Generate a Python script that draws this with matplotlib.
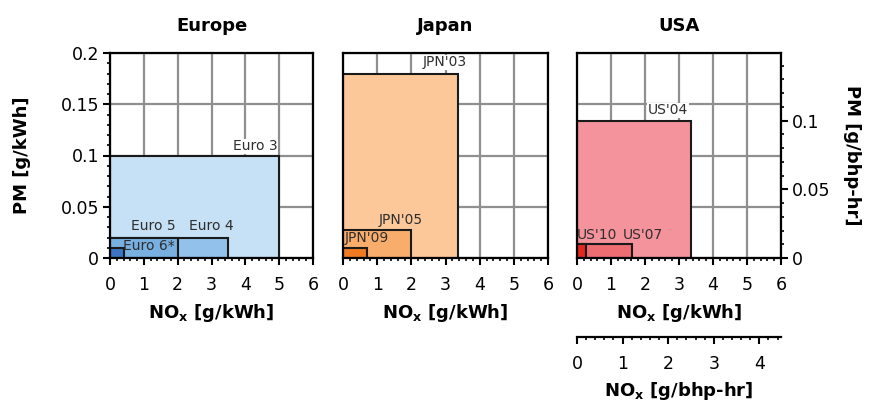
import matplotlib.pyplot as plt
from matplotlib.patches import Rectangle
from matplotlib.ticker import MultipleLocator

plt.rcParams['font.family'] = ['DejaVu Sans']

# emission limits: NOx [g/kWh], PM [g/kWh]
eu_names = ['Euro 3', 'Euro 4', 'Euro 5', 'Euro 6*']
eu_nox = [5.0, 3.5, 2.0, 0.4]
eu_pm = [0.10, 0.02, 0.02, 0.01]
eu_colors = ['#c6e0f5', '#92c2eb', '#78b0e2', '#3b74c2']

jp_names = ["JPN'03", "JPN'05", "JPN'09"]
jp_nox = [3.38, 2.0, 0.7]
jp_pm = [0.18, 0.027, 0.01]
jp_colors = ['#fdc899', '#f9ad6c', '#f07a22']

us_names = ["US'04", "US'07", "US'10"]
us_nox = [3.35, 1.61, 0.27]
us_pm = [0.134, 0.0134, 0.0134]
us_colors = ['#f4939b', '#ee6d73', '#e4261f']

KWH_PER_BHP = 1.341  # g/bhp-hr -> g/kWh

TICK_FS = 12.5
LAB_FS = 13

fig = plt.figure(figsize=(8.85, 4.05), dpi=100)
W, H = 885, 405


def style_ticks(a, pad=3):
    a.tick_params(which='major', direction='out', length=5, width=1.5,
                  labelsize=TICK_FS, pad=pad)
    a.tick_params(which='minor', direction='out', length=2.5, width=1.2)


def make_ax(x0, x1, title):
    ax = fig.add_axes([x0 / W, 1 - 258 / H, (x1 - x0) / W, 205 / H])
    ax.set_xlim(0, 6)
    ax.set_ylim(0, 0.2)
    ax.xaxis.set_major_locator(MultipleLocator(1))
    ax.xaxis.set_minor_locator(MultipleLocator(0.2))
    ax.yaxis.set_major_locator(MultipleLocator(0.05))
    ax.yaxis.set_minor_locator(MultipleLocator(0.01))
    ax.grid(True, which='major', color='#8f8f8f', lw=1.6, zorder=0)
    ax.set_axisbelow(True)
    for s in ax.spines.values():
        s.set_linewidth(1.6)
        s.set_zorder(5)
    style_ticks(ax)
    ax.tick_params(axis='x', which='major', pad=8)
    ax.tick_params(axis='y', left=False, labelleft=False, which='both')
    ax.set_xlabel('NO$_\\mathbf{x}$ [g/kWh]', fontsize=LAB_FS,
                  fontweight='bold', labelpad=6)
    ax.set_title(title, fontsize=13, fontweight='bold', pad=16)
    return ax


def draw_boxes(ax, nox, pm, colors):
    for n, p, c in zip(nox, pm, colors):
        ax.add_patch(Rectangle((0, 0), n, p, facecolor=c, edgecolor='#1a1a1a',
                               lw=1.5, zorder=2))


def label(ax, x, y, s, ha='left', bg=False):
    kw = {}
    if bg:
        kw['bbox'] = dict(facecolor='white', edgecolor='none', pad=0.5)
    ax.text(x, y, s, ha=ha, va='center', fontsize=10, color='#2e2e2e',
            zorder=4, **kw)


# Europe
ax1 = make_ax(110, 313, 'Europe')
ax1.tick_params(axis='y', left=True, labelleft=True, which='both')
ax1.set_yticks([0, 0.05, 0.1, 0.15, 0.2])
ax1.set_yticklabels(['0', '0.05', '0.1', '0.15', '0.2'])
ax1.set_ylabel('PM [g/kWh]', fontsize=LAB_FS, fontweight='bold', labelpad=21)
draw_boxes(ax1, eu_nox, eu_pm, eu_colors)
label(ax1, eu_nox[0] - 0.05, 0.109, eu_names[0], ha='right', bg=True)
label(ax1, eu_nox[1] + 0.15, 0.031, eu_names[1], ha='right')
label(ax1, eu_nox[2] - 0.05, 0.031, eu_names[2], ha='right')
label(ax1, eu_nox[3] - 0.02, 0.0115, eu_names[3], ha='left')

# Japan
ax2 = make_ax(343, 548, 'Japan')
draw_boxes(ax2, jp_nox, jp_pm, jp_colors)
label(ax2, jp_nox[0] + 0.25, 0.191, jp_names[0], ha='right', bg=True)
label(ax2, jp_nox[1] + 0.35, 0.037, jp_names[1], ha='right')
label(ax2, 0.04, 0.0195, jp_names[2], ha='left')

# USA
ax3 = make_ax(577, 781, 'USA')
draw_boxes(ax3, us_nox, us_pm, us_colors)
label(ax3, us_nox[0] - 0.08, 0.144, us_names[0], ha='right', bg=True)
label(ax3, 0.0, 0.0225, us_names[2], ha='left')
label(ax3, 1.36, 0.0225, us_names[1], ha='left')

to_bhp = (lambda v: v / KWH_PER_BHP, lambda v: v * KWH_PER_BHP)

sy = ax3.secondary_yaxis('right', functions=to_bhp)
sy.yaxis.set_major_locator(MultipleLocator(0.05))
sy.yaxis.set_minor_locator(MultipleLocator(0.01))
sy.set_yticks([0, 0.05, 0.1])
sy.set_yticklabels(['0', '0.05', '0.1'])
style_ticks(sy)
sy.spines['right'].set_visible(False)
sy.set_ylabel('PM [g/bhp-hr]', fontsize=LAB_FS, fontweight='bold',
              rotation=270, labelpad=22)

sx = ax3.secondary_xaxis(-(337 - 258) / 205, functions=to_bhp)
sx.xaxis.set_major_locator(MultipleLocator(1))
sx.xaxis.set_minor_locator(MultipleLocator(0.2))
sx.spines['bottom'].set_linewidth(1.6)
style_ticks(sx, pad=8)
sx.set_xlabel('NO$_\\mathbf{x}$ [g/bhp-hr]', fontsize=LAB_FS,
              fontweight='bold', labelpad=5)

fig.savefig('out.png', dpi=100)
